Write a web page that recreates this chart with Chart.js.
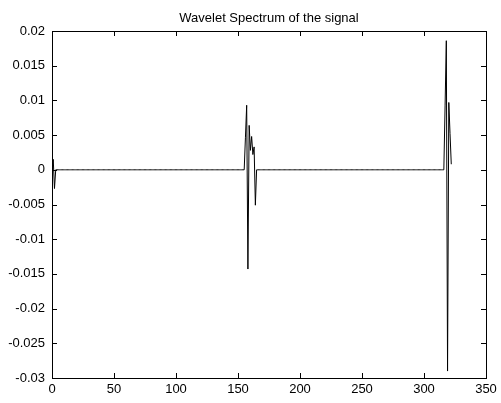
<!DOCTYPE html>
<html>
<head>
<meta charset="utf-8">
<title>Wavelet Spectrum</title>
<script src="https://cdn.jsdelivr.net/npm/chart.js@4/dist/chart.umd.min.js"></script>
<style>
  html, body { margin: 0; padding: 0; background: #fff; }
  #wrap { width: 501px; height: 403px; }
</style>
</head>
<body>
<div id="wrap"><canvas id="spectrum" width="501" height="403"></canvas></div>
<script>
// coefficient count and the three bursts of non-zero coefficients
const nSamples = 323;
const burst1Start = 1;
const burst1 = [0.0015, -0.0027];
const burst2Start = 156;
const burst2 = [0.0047, 0.0093, -0.0143, 0.0064, 0.0028, 0.0048, 0.0022, 0.0033, -0.0051];
const burst3Start = 317;
const burst3 = [0.0092, 0.0186, -0.0290, 0.0097, 0.0052, 0.0008];

// axis ticks
const xTicks = [0, 50, 100, 150, 200, 250, 300, 350];
const yTicks = [-0.03, -0.025, -0.02, -0.015, -0.01, -0.005, 0, 0.005, 0.01, 0.015, 0.02];

const titleText = 'Wavelet Spectrum of the signal';
const FONT = 'Arial, "Liberation Sans", sans-serif';

const coeffs = new Array(nSamples).fill(0);
[[burst1Start, burst1], [burst2Start, burst2], [burst3Start, burst3]].forEach(([s, vals]) => {
  vals.forEach((v, i) => { coeffs[s + i] = v; });
});
const points = coeffs.map((v, i) => ({ x: i, y: v }));

// matlab-ish frame: box round the plot, ticks pointing inwards, title on top
const frame = {
  id: 'frame',
  afterDraw(chart) {
    const { ctx, chartArea: a, scales } = chart;
    const len = 5;
    ctx.save();
    ctx.strokeStyle = '#000';
    ctx.lineWidth = 1;
    ctx.strokeRect(a.left + 0.5, a.top + 0.5, a.right - a.left, a.bottom - a.top);
    ctx.beginPath();
    xTicks.forEach(t => {
      const px = Math.round(scales.x.getPixelForValue(t)) + 0.5;
      ctx.moveTo(px, a.bottom); ctx.lineTo(px, a.bottom - len);
      ctx.moveTo(px, a.top); ctx.lineTo(px, a.top + len);
    });
    yTicks.forEach(t => {
      const py = Math.round(scales.y.getPixelForValue(t)) + 0.5;
      ctx.moveTo(a.left, py); ctx.lineTo(a.left + len, py);
      ctx.moveTo(a.right, py); ctx.lineTo(a.right - len, py);
    });
    ctx.stroke();
    ctx.fillStyle = '#000';
    ctx.font = '13px ' + FONT;
    ctx.textAlign = 'center';
    ctx.textBaseline = 'alphabetic';
    ctx.fillText(titleText, (a.left + a.right) / 2, 22);
    ctx.restore();
  }
};

new Chart(document.getElementById('spectrum'), {
  type: 'line',
  data: {
    datasets: [{
      data: points,
      borderColor: '#000',
      borderWidth: 1,
      pointRadius: 0,
      tension: 0,
      fill: false
    }]
  },
  options: {
    responsive: false,
    animation: false,
    layout: { padding: { top: 31, right: 15, left: 0, bottom: 0 } },
    plugins: { legend: { display: false }, tooltip: { enabled: false } },
    scales: {
      x: {
        type: 'linear',
        min: 0, max: 350,
        afterFit(s) { s.height = 25; },
        afterBuildTicks(s) { s.ticks = xTicks.map(v => ({ value: v })); },
        grid: { display: false, drawTicks: false },
        border: { display: false },
        ticks: { color: '#000', padding: 4, maxRotation: 0, font: { family: FONT, size: 13 } }
      },
      y: {
        min: -0.03, max: 0.02,
        afterFit(s) { s.width = 52; },
        afterBuildTicks(s) { s.ticks = yTicks.map(v => ({ value: v })); },
        grid: { display: false, drawTicks: false },
        border: { display: false },
        ticks: {
          color: '#000', padding: 7, font: { family: FONT, size: 13 },
          callback: v => String(Number(v.toFixed(3)))
        }
      }
    }
  },
  plugins: [frame]
});
</script>
</body>
</html>
